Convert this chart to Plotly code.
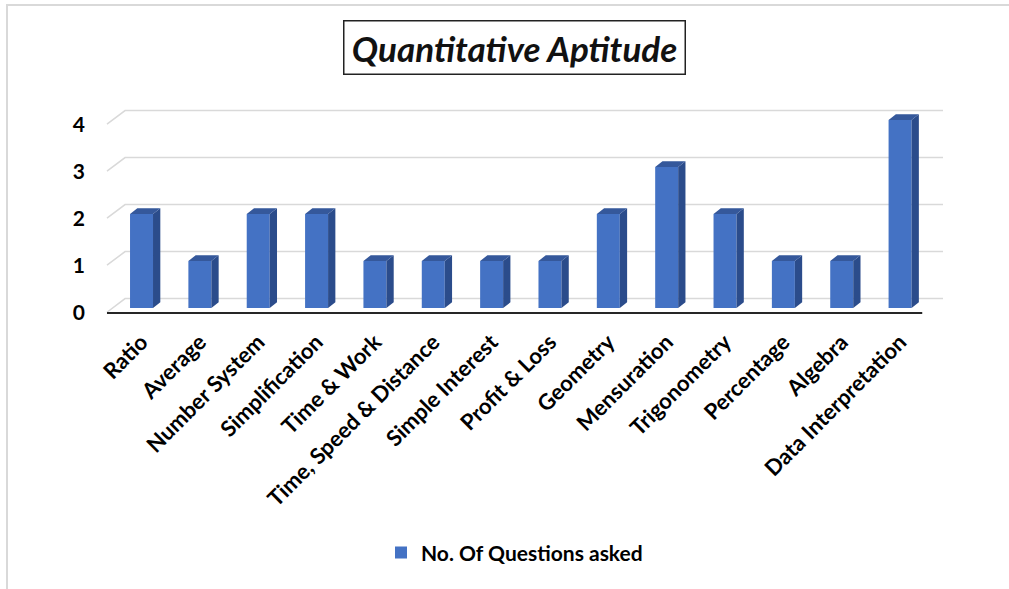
import plotly.graph_objects as go

categories = ["Ratio", "Average", "Number System", "Simplification", "Time & Work",
              "Time, Speed & Distance", "Simple Interest", "Profit & Loss", "Geometry",
              "Mensuration", "Trigonometry", "Percentage", "Algebra", "Data Interpretation"]
questions = [2, 1, 2, 2, 1, 1, 1, 1, 2, 3, 2, 1, 1, 4]
y_ticks = [0, 1, 2, 3, 4]
series_name = "No. Of Questions asked"
title_text = "Quantitative Aptitude"

W, H = 1009, 589
L, R, T, B = 105, 64, 101, 274
xr = [-0.626, 13.77]
yr = [-0.149, 4.404]

bw = 0.394      # front face width
ddx = 0.125     # depth offset x
ddy = 0.12      # depth offset y

FRONT = "#4472C4"
SIDE = "#2B4C8B"
TOP = "#35589B"

xs = list(range(len(categories)))

fig = go.Figure()

# front faces
fig.add_trace(go.Bar(x=xs, y=questions, width=bw, marker=dict(color=FRONT, line=dict(width=0)),
                     name=series_name, showlegend=True))

# side faces
sx, sy = [], []
for i, v in zip(xs, questions):
    r = i + bw / 2
    sx += [r, r + ddx, r + ddx, r, r, None]
    sy += [0, ddy, v + ddy, v, 0, None]
fig.add_trace(go.Scatter(x=sx, y=sy, mode="lines", fill="toself", fillcolor=SIDE,
                         line=dict(width=0, color=SIDE), showlegend=False, hoverinfo="skip"))

# top faces
tx, ty = [], []
for i, v in zip(xs, questions):
    l, r = i - bw / 2, i + bw / 2
    tx += [l, l + ddx, r + ddx, r, l, None]
    ty += [v, v + ddy, v + ddy, v, v, None]
fig.add_trace(go.Scatter(x=tx, y=ty, mode="lines", fill="toself", fillcolor=TOP,
                         line=dict(width=0, color=TOP), showlegend=False, hoverinfo="skip"))

# front floor axis line
gx0, gdx, gx1 = -0.592, 0.31, 13.736
f_off, b_off = -0.09, 0.2
fig.add_trace(go.Scatter(x=[gx0, 13.38], y=[-0.106, -0.106], mode="lines",
                         line=dict(color="#262626", width=2), showlegend=False, hoverinfo="skip"))

# back-wall gridlines with floor-diagonal (below the bars)
shapes = []
for t in y_ticks:
    shapes.append(dict(type="path", xref="x", yref="y", layer="below",
                       path=f"M {gx0},{t + f_off} L {gx0 + gdx},{t + b_off} L {gx1},{t + b_off}",
                       line=dict(color="#d9d9d9", width=1.5)))
shapes.append(dict(type="rect", xref="paper", yref="paper",
                   x0=(7 - L) / (W - L - R), x1=(1020 - L) / (W - L - R),
                   y0=(H - B - 600) / (H - T - B), y1=(H - B - 5) / (H - T - B),
                   line=dict(color="#d9d9d9", width=2), layer="below"))

fig.update_layout(
    width=W, height=H,
    margin=dict(l=L, r=R, t=T, b=B),
    paper_bgcolor="white", plot_bgcolor="white",
    font=dict(family="Lato", color="#000000"),
    xaxis=dict(range=xr, tickmode="array", tickvals=xs, ticktext=categories,
               tickangle=-45, showgrid=False, zeroline=False, showline=False,
               ticks="", tickfont=dict(family="Lato", size=22, weight="bold", color="#000"),
               ticklabelstandoff=9),
    yaxis=dict(range=yr, tickmode="array", tickvals=[t + f_off for t in y_ticks],
               ticktext=[str(t) for t in y_ticks], showgrid=False, zeroline=False,
               showline=False, ticks="",
               tickfont=dict(family="Lato", size=21, weight="bold", color="#000"),
               ticklabelstandoff=19),
    legend=dict(orientation="h", x=0.4875, xanchor="center", y=-1.112, yanchor="middle",
                font=dict(family="Lato", size=21, weight="bold", color="#000"),
                bgcolor="rgba(0,0,0,0)"),
    annotations=[dict(text=title_text, xref="paper", yref="paper", x=0.4875, y=1.25,
                      xanchor="center", yanchor="middle", showarrow=False,
                      font=dict(family="Lato", size=35, weight="bold", style="italic", color="#111"),
                      bordercolor="#222", borderwidth=1.5, borderpad=6, width=328, height=40)],
    shapes=shapes,
)

fig.write_html("out.html", config={"displayModeBar": False},
               post_script="document.body.style.margin='0';document.body.style.overflow='hidden';")
